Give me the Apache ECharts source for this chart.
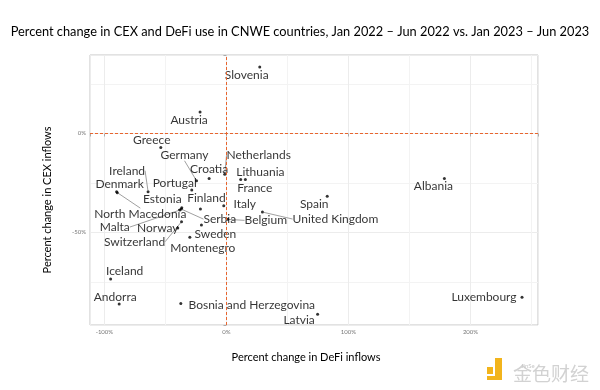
<!DOCTYPE html>
<html><head><meta charset="utf-8">
<script src="https://cdn.jsdelivr.net/npm/echarts@6/dist/echarts.min.js"></script>
<style>html,body{margin:0;padding:0;background:#fff}#c{width:600px;height:390px}</style>
</head><body><div id="c"></div>
<script>
// ---- data ----
const countries = ["Slovenia","Austria","Greece","Germany","Croatia","Netherlands","Lithuania","France","Ireland","Denmark","Portugal","Estonia","Finland","Italy","Spain","Albania","North Macedonia","Serbia","Belgium","United Kingdom","Malta","Norway","Sweden","Switzerland","Montenegro","Iceland","Andorra","Bosnia and Herzegovina","Latvia","Luxembourg"];
const defiChange = [27.3,-21.6,-53.8,-24.5,-14.2,-1.4,15.5,11.7,-64.2,-90.0,-28.4,-36.6,-21.3,-2.2,82.6,178.6,-89.4,-37.0,1.1,29.5,-38.2,-39.9,-20.5,-36.8,-30.0,-94.9,-87.9,-37.4,74.7,242.2];
const cexChange = [33.6,10.9,-7.1,-23.9,-22.7,-20.6,-23.2,-23.2,-29.4,-29.4,-28.6,-37.5,-38.2,-36.5,-31.7,-22.7,-29.9,-38.2,-43.4,-39.7,-38.7,-47.8,-46.3,-44.6,-52.4,-73.6,-86.2,-85.9,-91.4,-82.8];

// label placement (pixel offsets of label centre from its point, and whether a leader line is drawn)
const labelOffsets = {
  "Slovenia":[-13,8,0],"Austria":[-11,8,0],"Greece":[-9,-7,0],"Germany":[-12,-26,1],"Croatia":[0,-9,0],
  "Netherlands":[34,-19,1],"Lithuania":[15,-7,0],"France":[14,9,0],"Ireland":[-21,-21,1],"Denmark":[3,-8,0],
  "Portugal":[-17,-7,0],"Estonia":[-19.5,-9,0],"Finland":[6,-11,0],"Italy":[21,-2,0],"Spain":[-13,8,0],
  "Albania":[-11,8,0],"North Macedonia":[23,21.5,1],"Serbia":[38.5,10,1],"Belgium":[38,1,1],"United Kingdom":[73,7,1],
  "Malta":[-65,17,1],"Norway":[-20,0,0],"Sweden":[14,9,0],"Switzerland":[-47,20,1],"Montenegro":[13,11,0],
  "Iceland":[14,-8,0],"Andorra":[-4,-7,0],"Bosnia and Herzegovina":[71,2,0],"Latvia":[-18.5,6,0],"Luxembourg":[-38,0,0]
};

const FONT = 'Lato';
const chart = echarts.init(document.getElementById('c'), null, {renderer:'canvas'});
chart.setOption({
  animation:false,
  backgroundColor:'#fff',
  title:{text:'Percent change in CEX and DeFi use in CNWE countries, Jan 2022 – Jun 2022 vs. Jan 2023 – Jun 2023',
    left:'center', top:20, textStyle:{fontFamily:FONT, fontSize:12.8, fontWeight:'normal', color:'#000'}},
  grid:{left:90, right:62, top:55, bottom:65, show:true, borderColor:'#c4c4c4', borderWidth:1},
  xAxis:{type:'value', min:-111.8, max:255.3, splitNumber:4,
    axisLine:{show:false},
    axisTick:{show:true, length:3, lineStyle:{color:'#aaa'}},
    axisLabel:{formatter:v => (Math.abs(v % 50) < 1e-6 ? v + '%' : ''), fontSize:6, color:'#777', margin:4, fontFamily:FONT},
    splitLine:{lineStyle:{color:'#ececec', width:1}},
    minorTick:{show:false, splitNumber:2},
    minorSplitLine:{show:true, lineStyle:{color:'#f3f3f3', width:1}}},
  yAxis:{type:'value', min:-96.8, max:39.68, splitNumber:3,
    axisLine:{show:false},
    axisTick:{show:true, length:3, lineStyle:{color:'#aaa'}},
    axisLabel:{formatter:v => (Math.abs(v % 50) < 1e-6 ? v + '%' : ''), fontSize:6, color:'#777', margin:4, fontFamily:FONT},
    splitLine:{lineStyle:{color:'#ececec', width:1}},
    minorTick:{show:false, splitNumber:2},
    minorSplitLine:{show:true, lineStyle:{color:'#f3f3f3', width:1}}},
  graphic:[
    {type:'text', x:306, y:357, style:{text:'Percent change in DeFi inflows', fontFamily:FONT, fontSize:11, fill:'#000', align:'center', verticalAlign:'middle'}},
    {type:'text', x:47, y:200, rotation:Math.PI/2, style:{text:'Percent change in CEX inflows', fontFamily:FONT, fontSize:11, fill:'#000', align:'center', verticalAlign:'middle'}},
    {type:'rect', shape:{x:487, y:367, width:6, height:7}, style:{fill:'#f2b41c'}},
    {type:'rect', shape:{x:495, y:358, width:7, height:22}, style:{fill:'#f2b41c'}},
    {type:'rect', shape:{x:487, y:376, width:15, height:4}, style:{fill:'#f2b41c'}},
    {type:'text', x:513, y:374, style:{text:'金色财经', fontFamily:'Noto Sans CJK SC', fontSize:19, fill:'#d2d2d2', verticalAlign:'middle'}},
    {type:'text', x:521, y:366, style:{text:'JinSe', fontFamily:FONT, fontSize:6, fill:'#c8c8c8', verticalAlign:'middle'}}
  ],
  series:[{
    type:'scatter', symbolSize:3, itemStyle:{color:'#000'},
    data: countries.map((n,i)=>({name:n, value:[defiChange[i], cexChange[i]], labelLine:{show: !!labelOffsets[n][2]}})),
    label:{show:true, position:'inside', formatter:'{b}', color:'#000', fontSize:12, fontFamily:FONT},
    labelLine:{show:false, lineStyle:{color:'#888', width:0.8}},
    labelLayout: p => { const o = labelOffsets[countries[p.dataIndex]]; return {dx:o[0], dy:o[1]}; },
    markLine:{silent:true, symbol:'none', label:{show:false}, animation:false,
      lineStyle:{color:'#e8652e', type:[3,2], width:1},
      data:[{xAxis:0},{yAxis:0}]}
  }]
});
</script>
</body></html>
